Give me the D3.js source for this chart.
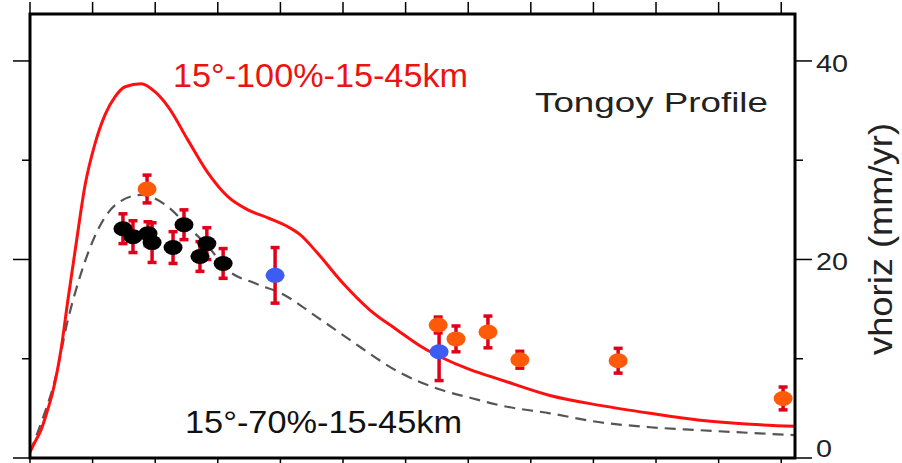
<!DOCTYPE html>
<html>
<head>
<meta charset="utf-8">
<script src="https://cdn.jsdelivr.net/npm/d3@7"></script>
<style>
  html, body { margin: 0; padding: 0; background: #fff; }
  svg { display: block; }
</style>
</head>
<body>
<svg id="chart" width="902" height="463"></svg>
<script>
// ---- data (distance along profile in km, horizontal velocity in mm/yr) ----
const model100X = [0, 1.9, 3.5, 5.4, 7.3, 9.9, 12.1, 14.7, 17.6, 20.8, 24.0, 27.2, 30.4, 35.5, 39.9, 44.1, 50.5, 56.9, 63.3, 69.6, 76.0, 82.4, 86.3, 91.7, 100.0, 108.6, 117.3, 125.6, 131.0, 140.6, 150.2, 166.1, 182.1, 198.1, 214.1, 230.0, 244.4];
const model100Y = [0.6, 1.8, 2.8, 4.6, 6.7, 10.9, 15.9, 21.5, 27.5, 31.7, 34.6, 36.4, 37.4, 37.7, 36.9, 35.4, 32.0, 28.7, 26.3, 25.0, 24.2, 23.3, 22.5, 20.7, 17.6, 14.9, 12.9, 11.1, 10.2, 8.9, 7.9, 6.3, 5.3, 4.5, 3.8, 3.4, 3.2];

const model70X = [0, 3.5, 8.0, 12.1, 16.3, 21.7, 28.1, 35.5, 44.1, 50.5, 56.9, 63.3, 71.9, 80.2, 91.7, 102.2, 118.2, 131.0, 141.5, 150.2, 166.1, 182.1, 198.1, 214.1, 244.4];
const model70Y = [0.6, 3.5, 7.9, 13.9, 18.6, 23.0, 25.7, 26.5, 25.3, 23.3, 21.3, 18.9, 17.6, 16.6, 14.2, 11.9, 8.6, 6.9, 6.0, 5.3, 4.5, 3.6, 3.1, 2.8, 2.3];

const blackX   = [29.7, 32.9, 37.7, 39.0, 45.7, 49.2, 56.5, 54.3, 61.7];
const blackY   = [23.1, 22.3, 22.6, 21.7, 21.2, 23.5, 21.6, 20.3, 19.6];
const blackErr = [1.5, 1.6, 1.2, 2.0, 1.6, 1.5, 1.6, 1.5, 1.5];

const orangeX   = [37.4, 130.4, 136.1, 146.3, 156.5, 187.9, 240.6];
const orangeY   = [27.1, 13.4, 12.0, 12.7, 9.9, 9.8, 6.0];
const orangeErr = [1.4, 0.8, 1.3, 1.6, 0.85, 1.25, 1.15];

const blueX   = [78.3, 130.7];
const blueY   = [18.4, 10.7];
const blueErr = [2.8, 2.9];

const xTicks = [0, 20, 40, 60, 80, 100, 120, 140, 160, 180, 200, 220, 240];
const yMajorTicks = [0, 20, 40];
const yMinorTicks = [10, 30];
const yTickLabels = ["0", "20", "40"];

// ---- layout ----
const svg = d3.select("#chart");
const L = 30, R = 795, T = 14, B = 458;

const x = d3.scaleLinear().domain([0, 244.4]).range([L, R]);
const y = d3.scaleLinear().domain([0, 44.73]).range([B, T]);

// axes ticks
const tickG = svg.append("g").attr("stroke", "#000").attr("stroke-width", 1.5);
tickG.selectAll(".tt").data(xTicks).join("line")
  .attr("x1", d => x(d)).attr("x2", d => x(d))
  .attr("y1", T).attr("y2", T - 12);
tickG.selectAll(".tb").data(xTicks).join("line")
  .attr("x1", d => x(d)).attr("x2", d => x(d))
  .attr("y1", B).attr("y2", B + 10);
tickG.selectAll(".lm").data(yMajorTicks).join("line")
  .attr("x1", L).attr("x2", L - 17)
  .attr("y1", d => y(d)).attr("y2", d => y(d));
tickG.selectAll(".rm").data(yMajorTicks).join("line")
  .attr("x1", R).attr("x2", R + 17)
  .attr("y1", d => y(d)).attr("y2", d => y(d));
tickG.selectAll(".ln").data(yMinorTicks).join("line")
  .attr("x1", L).attr("x2", L - 8)
  .attr("y1", d => y(d)).attr("y2", d => y(d));
tickG.selectAll(".rn").data(yMinorTicks).join("line")
  .attr("x1", R).attr("x2", R + 8)
  .attr("y1", d => y(d)).attr("y2", d => y(d));

// right tick labels (bottom one kept inside the window)
svg.append("g").selectAll("text").data(yMajorTicks).join("text")
  .attr("x", 816).attr("y", d => Math.min(y(d) + 11, 457))
  .attr("font-family", "Liberation Sans, Arial, sans-serif")
  .attr("font-size", 24).attr("fill", "#222")
  .attr("textLength", (d, i) => yTickLabels[i].length * 16)
  .attr("lengthAdjust", "spacingAndGlyphs")
  .text((d, i) => yTickLabels[i]);

// right axis title
svg.append("text")
  .attr("transform", "translate(892,239) rotate(-90)")
  .attr("text-anchor", "middle")
  .attr("font-family", "Liberation Sans, Arial, sans-serif")
  .attr("font-size", 34).attr("fill", "#222")
  .attr("textLength", 232).attr("lengthAdjust", "spacingAndGlyphs")
  .text("vhoriz (mm/yr)");

// ---- model curves ----
svg.append("clipPath").attr("id", "plotclip")
  .append("rect").attr("x", L).attr("y", T).attr("width", R - L).attr("height", B - T);
const plot = svg.append("g").attr("clip-path", "url(#plotclip)");

const line = d3.line().x(d => x(d[0])).y(d => y(d[1])).curve(d3.curveMonotoneX);

plot.append("path")
  .datum(model70X.map((v, i) => [v, model70Y[i]]))
  .attr("d", line).attr("fill", "none")
  .attr("stroke", "#555").attr("stroke-width", 2.2)
  .attr("stroke-dasharray", "11,7");

plot.append("path")
  .datum(model100X.map((v, i) => [v, model100Y[i]]))
  .attr("d", line).attr("fill", "none")
  .attr("stroke", "#ff1010").attr("stroke-width", 3);

// ---- observations ----
function series(xs, ys, es, fill) {
  return xs.map((v, i) => ({ x: v, y: ys[i], e: es[i], fill }));
}
const obs = [].concat(
  series(blackX, blackY, blackErr, "#000"),
  series(orangeX, orangeY, orangeErr, "#ff5a0a"),
  series(blueX, blueY, blueErr, "#3d5cf2")
);

const errG = plot.append("g").attr("stroke", "#e0001a");
errG.selectAll(".v").data(obs).join("line")
  .attr("x1", d => x(d.x)).attr("x2", d => x(d.x))
  .attr("y1", d => y(d.y + d.e)).attr("y2", d => y(d.y - d.e))
  .attr("stroke-width", 3.5);
errG.selectAll(".ct").data(obs).join("line")
  .attr("x1", d => x(d.x) - 4.5).attr("x2", d => x(d.x) + 4.5)
  .attr("y1", d => y(d.y + d.e)).attr("y2", d => y(d.y + d.e))
  .attr("stroke-width", 3.5);
errG.selectAll(".cb").data(obs).join("line")
  .attr("x1", d => x(d.x) - 4.5).attr("x2", d => x(d.x) + 4.5)
  .attr("y1", d => y(d.y - d.e)).attr("y2", d => y(d.y - d.e))
  .attr("stroke-width", 3.5);

plot.append("g").selectAll("ellipse").data(obs).join("ellipse")
  .attr("cx", d => x(d.x)).attr("cy", d => y(d.y))
  .attr("rx", 9.5).attr("ry", 7.5)
  .attr("fill", d => d.fill);

// ---- annotations ----
svg.append("text")
  .attr("x", 173).attr("y", 87)
  .attr("font-family", "Liberation Sans, Arial, sans-serif")
  .attr("font-size", 34).attr("fill", "#ee1111")
  .attr("textLength", 295).attr("lengthAdjust", "spacingAndGlyphs")
  .text("15°-100%-15-45km");

svg.append("text")
  .attr("x", 185).attr("y", 433)
  .attr("font-family", "Liberation Sans, Arial, sans-serif")
  .attr("font-size", 32).attr("fill", "#111")
  .attr("textLength", 277).attr("lengthAdjust", "spacingAndGlyphs")
  .text("15°-70%-15-45km");

svg.append("text")
  .attr("x", 535).attr("y", 112)
  .attr("font-family", "Liberation Sans, Arial, sans-serif")
  .attr("font-size", 27).attr("fill", "#222")
  .attr("textLength", 233).attr("lengthAdjust", "spacingAndGlyphs")
  .text("Tongoy Profile");

// frame
svg.append("rect")
  .attr("x", L).attr("y", T).attr("width", R - L).attr("height", B - T)
  .attr("fill", "none").attr("stroke", "#000").attr("stroke-width", 3);
</script>
</body>
</html>
